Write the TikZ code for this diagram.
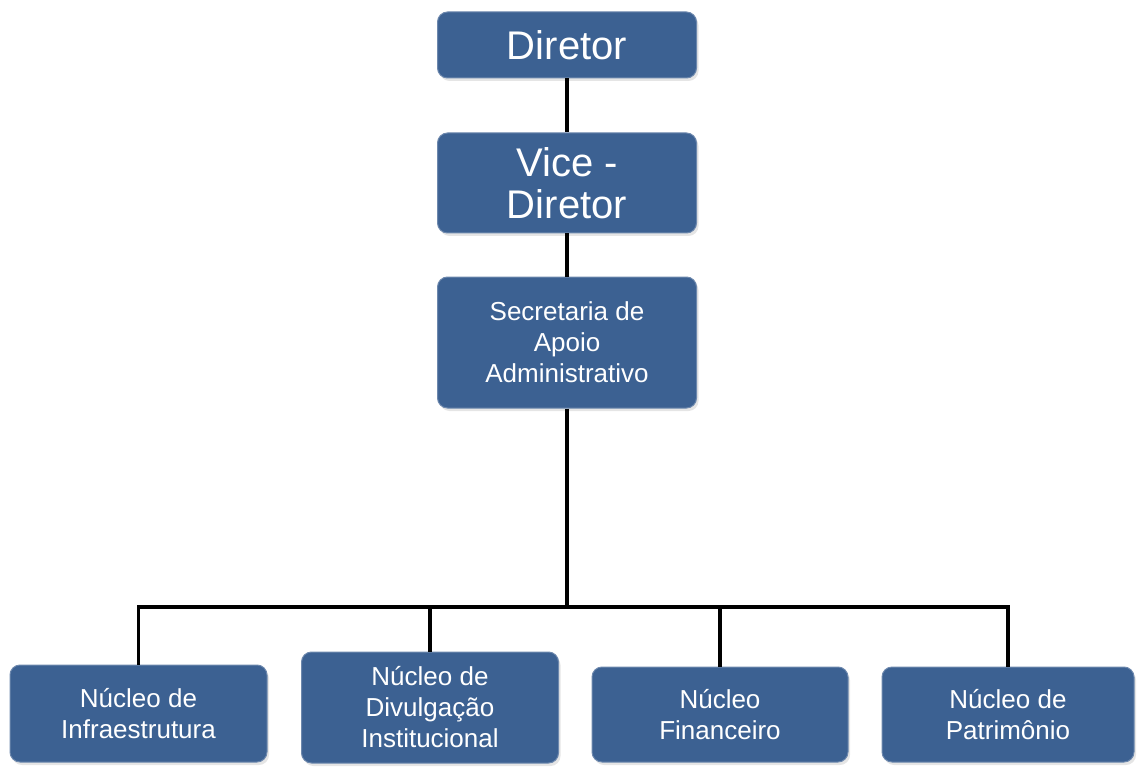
\documentclass[tikz,border=0pt]{standalone}
\usepackage{fontspec}
\setmainfont{Liberation Sans}
\usetikzlibrary{shadows}
\definecolor{boxblue}{RGB}{60,97,146}
\tikzset{
  unit/.style={draw=boxblue!75!white, line width=1pt, fill=boxblue, rounded corners=10pt,
    text=white, align=center, inner sep=0pt,
    drop shadow={shadow xshift=2pt, shadow yshift=-3pt, fill=black!20}},
  link/.style={line width=3.5pt, black}
}
\begin{document}
\begin{tikzpicture}[x=1pt, y=-1pt]
        \useasboundingbox (0,0) rectangle (1137,767);
        \node[unit, minimum width=259pt, minimum height=66pt, font=\fontsize{40}{42}\selectfont] (D) at (567,45) {Diretor};
        \node[unit, minimum width=259pt, minimum height=100pt, font=\fontsize{40}{42}\selectfont] (V) at (567,183) {Vice -\\Diretor};
        \node[unit, minimum width=259pt, minimum height=131pt, font=\fontsize{26}{31}\selectfont] (S) at (567,342.5) {Secretaria de\\Apoio\\Administrativo};
        \node[unit, minimum width=257pt, minimum height=97pt, font=\fontsize{26}{31}\selectfont] (N1) at (138.5,713.5) {Núcleo de\\Infraestrutura};
        \node[unit, minimum width=257pt, minimum height=111pt, font=\fontsize{26}{31}\selectfont] (N2) at (430,707.5) {Núcleo de\\Divulgação\\Institucional};
        \node[unit, minimum width=256pt, minimum height=95pt, font=\fontsize{26}{31}\selectfont] (N3) at (720,714.5) {Núcleo\\Financeiro};
        \node[unit, minimum width=252pt, minimum height=95pt, font=\fontsize{26}{31}\selectfont] (N4) at (1008,714.5) {Núcleo de\\Patrimônio};
        \coordinate (bar) at (567,607);
        \draw[link] (D) to (V);
        \draw[link] (V) to (S);
        \draw[link] (S) to (bar);
        \draw[link] (bar) -| (N1);
        \draw[link] (bar) -| (N2);
        \draw[link] (bar) -| (N3);
        \draw[link] (bar) -| (N4);
    \end{tikzpicture}
\end{document}
